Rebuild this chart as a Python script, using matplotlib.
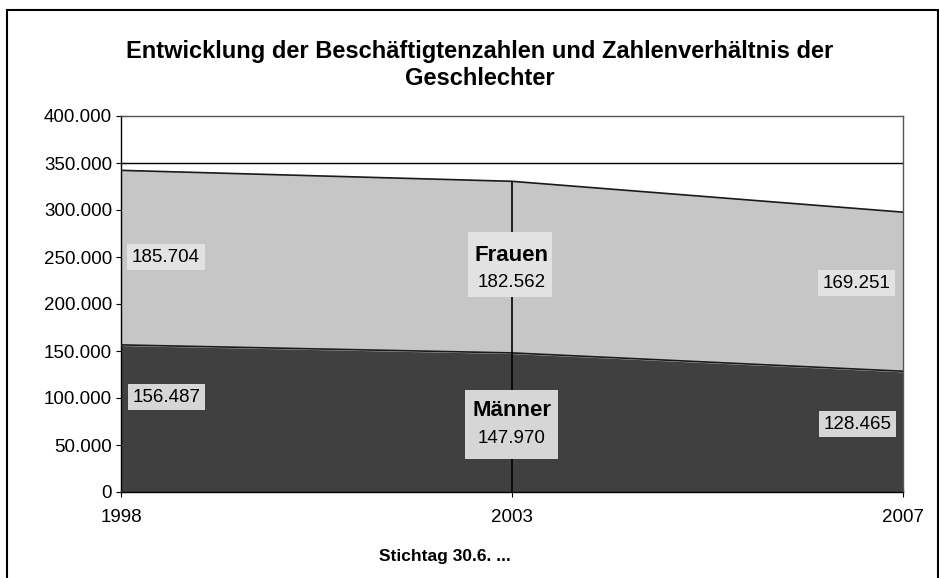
import numpy as np
import matplotlib.pyplot as plt
from matplotlib.patches import Rectangle

# Daten
jahre = ['1998', '2003', '2007']
maenner = [156487, 147970, 128465]
frauen = [185704, 182562, 169251]
y_ticks = [0, 50000, 100000, 150000, 200000, 250000, 300000, 350000, 400000]

plt.rcParams['font.family'] = ['Liberation Sans', 'DejaVu Sans']


def fmt(v):
    return '{:,}'.format(v).replace(',', '.')


fig = plt.figure(figsize=(9.39, 5.78), dpi=100)
fig.patches.append(Rectangle((7 / 939, -0.1), 931 / 939, 1.1 - 10 / 578,
                             transform=fig.transFigure, fill=False,
                             edgecolor='black', linewidth=1.5))

ax = fig.add_axes([121 / 939, 1 - 492 / 578, 782 / 939, 376 / 578])
x = np.arange(len(jahre))
m = np.array(maenner)
f = np.array(frauen)

ax.fill_between(x, 0, m, color='#404040', zorder=2)
ax.fill_between(x, m, m + f, color='#c6c6c6', zorder=2)
ax.plot(x, m, color='#1a1a1a', lw=1.2, zorder=3)
ax.plot(x, m + f, color='#1a1a1a', lw=1.2, zorder=3)
ax.axhline(350000, color='black', lw=1.0, zorder=1)
ax.vlines(1, 0, m[1] + f[1], color='black', lw=1.2, zorder=3)

ax.set_xlim(0, 2)
ax.set_ylim(0, 400000)
ax.set_xticks(x)
ax.set_xticklabels(jahre)
ax.set_yticks(y_ticks)
ax.set_yticklabels([fmt(v) for v in y_ticks])
ax.tick_params(direction='inout', length=7, labelsize=13.5, color='black')
ax.tick_params(axis='x', pad=9)
ax.tick_params(axis='y', pad=3)
for s in ax.spines.values():
    s.set_color('#555555')
    s.set_linewidth(1.0)
ax.spines['left'].set_color('black')
ax.spines['bottom'].set_color('black')

box_f = dict(boxstyle='square,pad=0.25', fc='#e2e2e2', ec='none')
box_m = dict(boxstyle='square,pad=0.25', fc='#d6d6d6', ec='none')

# Beschriftungen am Rand
ax.text(0.115, 250000, fmt(frauen[0]), ha='center', va='center',
        fontsize=13.5, bbox=box_f, zorder=5)
ax.text(0.117, 101000, fmt(maenner[0]), ha='center', va='center',
        fontsize=13.5, bbox=box_m, zorder=5)
ax.text(1.882, 222300, fmt(frauen[2]), ha='center', va='center',
        fontsize=13.5, bbox=box_f, zorder=5)
ax.text(1.884, 72300, fmt(maenner[2]), ha='center', va='center',
        fontsize=13.5, bbox=box_m, zorder=5)

# Beschriftungen in der Mitte
ax.add_patch(Rectangle((0.887, 207400), 0.215, 69200, fc='#e2e2e2', ec='none', zorder=4))
ax.text(1, 252100, 'Frauen', ha='center', va='center', fontsize=16,
        fontweight='bold', zorder=6)
ax.text(1, 223400, fmt(frauen[1]), ha='center', va='center',
        fontsize=13.5, zorder=6)
ax.add_patch(Rectangle((0.880, 35100), 0.238, 73400, fc='#d6d6d6', ec='none', zorder=4))
ax.text(1, 87200, 'Männer', ha='center', va='center', fontsize=16,
        fontweight='bold', zorder=6)
ax.text(1, 57400, fmt(maenner[1]), ha='center', va='center',
        fontsize=13.5, zorder=6)

fig.text(480 / 939, 1 - 65 / 578,
         'Entwicklung der Beschäftigtenzahlen und Zahlenverhältnis der\nGeschlechter',
         ha='center', va='center', fontsize=17, fontweight='bold', linespacing=1.25)
fig.text(445 / 939, 1 - 557 / 578, 'Stichtag 30.6. ...', ha='center', va='center',
         fontsize=12.5, fontweight='bold')

fig.savefig('out.png', dpi=100)
